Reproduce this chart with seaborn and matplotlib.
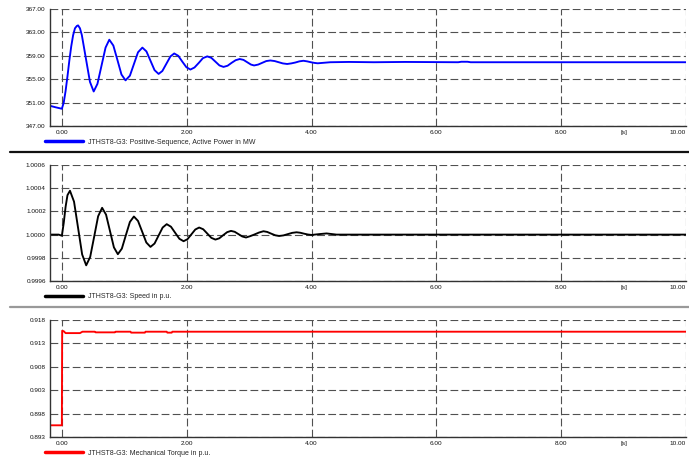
import matplotlib
matplotlib.use("Agg")
import matplotlib.pyplot as plt
from matplotlib.lines import Line2D
from matplotlib.ticker import FixedLocator, FormatStrFormatter, NullFormatter
import seaborn as sns

sns.set_style("white")
plt.rcParams["font.family"] = ["Liberation Sans", "DejaVu Sans"]

# Simulation time [s] and recorded signals of generator JTHST8-G3
power_t = [-0.19, -0.1, 0.0, 0.03, 0.06, 0.09, 0.12, 0.15, 0.18, 0.21, 0.24, 0.26,
           0.29, 0.32, 0.385, 0.45, 0.51, 0.57, 0.635, 0.70, 0.76, 0.825, 0.89, 0.955,
           1.02, 1.09, 1.155, 1.22, 1.29, 1.355, 1.42, 1.485, 1.55, 1.61, 1.675, 1.74,
           1.80, 1.865, 1.93, 1.995, 2.06, 2.125, 2.195, 2.26, 2.33, 2.395, 2.46, 2.525,
           2.59, 2.655, 2.72, 2.785, 2.85, 2.91, 2.97, 3.03, 3.08, 3.145, 3.21, 3.275,
           3.34, 3.41, 3.475, 3.54, 3.61, 3.675, 3.74, 3.805, 3.87, 3.93, 3.99, 4.05,
           4.10, 4.3, 4.6, 5.0, 5.5, 6.0, 6.35, 6.4, 6.5, 6.55, 7.0, 10.0]
power_mw = [350.45, 350.2, 349.95, 351.0, 353.0, 355.5, 358.2, 360.6, 362.5, 363.7, 364.1, 364.2,
            363.7, 362.55, 358.55, 354.55, 352.9, 354.2, 357.3, 360.4, 361.75, 360.75, 358.3, 355.8,
            354.8, 355.6, 357.6, 359.6, 360.4, 359.75, 358.15, 356.55, 355.9, 356.4, 357.65, 358.9,
            359.4, 359.0, 358.0, 357.05, 356.65, 357.0, 357.8, 358.6, 358.9, 358.65, 358.0, 357.35,
            357.1, 357.3, 357.8, 358.25, 358.45, 358.3, 357.9, 357.5, 357.35, 357.5, 357.8, 358.1,
            358.2, 358.1, 357.9, 357.7, 357.6, 357.7, 357.85, 358.05, 358.15, 358.05, 357.9, 357.78,
            357.72, 357.9, 357.95, 357.9, 357.95, 357.92, 357.9, 357.98, 357.98, 357.9, 357.9, 357.9]

speed_t = [-0.19, -0.05, 0.0, 0.03, 0.06, 0.09, 0.13, 0.195, 0.26, 0.325, 0.39, 0.454,
           0.518, 0.581, 0.645, 0.708, 0.771, 0.834, 0.897, 0.961, 1.025, 1.09, 1.154, 1.22,
           1.287, 1.353, 1.42, 1.485, 1.55, 1.615, 1.68, 1.748, 1.815, 1.883, 1.95, 2.012,
           2.075, 2.138, 2.2, 2.265, 2.33, 2.395, 2.46, 2.522, 2.585, 2.648, 2.71, 2.77,
           2.83, 2.89, 2.95, 3.02, 3.09, 3.16, 3.23, 3.29, 3.355, 3.42, 3.48, 3.55,
           3.62, 3.69, 3.76, 3.82, 3.88, 3.94, 4.0, 4.12, 4.24, 4.4, 10.0]
speed_pu = [1.0, 1.0, 0.99999, 1.0001, 1.00024, 1.00034, 1.000378, 1.000284, 1.000057, 0.999829, 0.999735, 0.999808,
            0.999983, 1.000158, 1.000231, 1.000172, 1.000031, 0.99989, 0.999831, 0.999879, 0.999994, 1.000109, 1.000156, 1.000118,
            1.000025, 0.999932, 0.999894, 0.999923, 0.999992, 1.000061, 1.00009, 1.000068, 1.000016, 0.999964, 0.999943, 0.99996,
            1.000002, 1.000044, 1.000061, 1.000046, 1.000009, 0.999972, 0.999957, 0.999968, 0.999995, 1.000021, 1.000032, 1.000024,
            1.000004, 0.999984, 0.999975, 0.999987, 1.000002, 1.000018, 1.000029, 1.000023, 1.000008, 0.999994, 0.999988, 0.999993,
            1.000004, 1.000015, 1.00002, 1.000016, 1.000008, 1.000001, 0.999997, 1.000004, 1.00001, 1.0, 1.0]

torque_t = [-0.19, 0.0, 0.005, 0.03, 0.06, 0.29, 0.33, 0.53, 0.54, 0.85, 0.86, 1.10,
            1.11, 1.33, 1.34, 1.68, 1.69, 1.76, 1.77, 10.0]
torque_pu = [0.8955, 0.8955, 0.9157, 0.9156, 0.9152, 0.9152, 0.9155, 0.9155, 0.91536, 0.91536, 0.9155, 0.9155,
             0.9153, 0.9153, 0.9155, 0.9155, 0.9153, 0.9153, 0.9155, 0.9155]

labels = ["JTHST8-G3: Positive-Sequence, Active Power in MW",
          "JTHST8-G3: Speed in p.u.",
          "JTHST8-G3: Mechanical Torque in p.u."]
colors = ["#0000ff", "#000000", "#ff0000"]

x_major = [0, 2, 4, 6, 8, 10]
x_major_labels = ["0.00", "2.00", "4.00", "6.00", "8.00", "10.00"]
x_minor = [1, 3, 5, 7, 9]
x_minor_labels = ["", "", "", "", "[s]"]

power_ticks = [347, 351, 355, 359, 363, 367]
speed_ticks = [0.9996, 0.9998, 1.0000, 1.0002, 1.0004, 1.0006]
torque_ticks = [0.893, 0.898, 0.903, 0.908, 0.913, 0.918]

W, H = 689, 461
fig = plt.figure(figsize=(W / 100, H / 100), dpi=100)


def px_axes(left, top, right, bottom):
    return fig.add_axes([left / W, 1 - bottom / H, (right - left) / W, (bottom - top) / H])


panels = [
    (px_axes(50, 9, 686, 126), power_t, power_mw, power_ticks, "%.2f", 142),
    (px_axes(50, 165, 686, 281), speed_t, speed_pu, speed_ticks, "%.4f", 297),
    (px_axes(50, 320, 686, 437), torque_t, torque_pu, torque_ticks, "%.3f", 453),
]

for (ax, t, v, yt, fmt, leg_y), lab, col in zip(panels, labels, colors):
    sns.lineplot(x=t, y=v, ax=ax, color=col, linewidth=1.35, estimator=None,
                 sort=False, label=lab)
    ax.set_xlim(-0.19, 10.0)
    ax.set_ylim(yt[0], yt[-1])
    ax.set_xlabel("")
    ax.set_ylabel("")

    ax.set_xticks(x_major)
    ax.set_xticklabels(x_major_labels)
    ax.set_xticks(x_minor, minor=True)
    ax.set_xticklabels(x_minor_labels, minor=True)
    # keep the last time label inside the figure edge
    ax.get_xticklabels()[-1].set_horizontalalignment("right")

    ax.yaxis.set_major_locator(FixedLocator(yt))
    ax.yaxis.set_major_formatter(FormatStrFormatter(fmt))
    step = yt[1] - yt[0]
    ax.yaxis.set_minor_locator(FixedLocator([y + step / 2 for y in yt[:-1]]))
    ax.yaxis.set_minor_formatter(NullFormatter())

    ax.grid(True, which="major", color="#505050", linewidth=0.8, linestyle=(0, (7, 3)))
    ax.set_axisbelow(True)
    for side in ("top", "right"):
        ax.spines[side].set_visible(False)
    for side in ("left", "bottom"):
        ax.spines[side].set_color("#333333")
        ax.spines[side].set_linewidth(1.0)

    ax.tick_params(which="both", direction="in", labelsize=4.6, colors="#333333",
                   labelcolor="#111111", pad=3)
    ax.tick_params(which="major", length=0)
    ax.tick_params(which="minor", length=3, width=0.8)

    leg = ax.legend(loc="center left", bbox_to_anchor=(45 / W, 1 - leg_y / H),
                    bbox_transform=fig.transFigure, frameon=False, fontsize=5,
                    handlelength=5.5, handletextpad=0.7, borderpad=0, borderaxespad=0)
    for line in leg.get_lines():
        line.set_linewidth(2.5)

# Panel separators
fig.add_artist(Line2D([10 / W, 1], [1 - 152 / H] * 2, transform=fig.transFigure,
                      color="#111111", linewidth=1.6))
fig.add_artist(Line2D([10 / W, 1], [1 - 307 / H] * 2, transform=fig.transFigure,
                      color="#999999", linewidth=1.6))

fig.savefig("out.png", dpi=100)
